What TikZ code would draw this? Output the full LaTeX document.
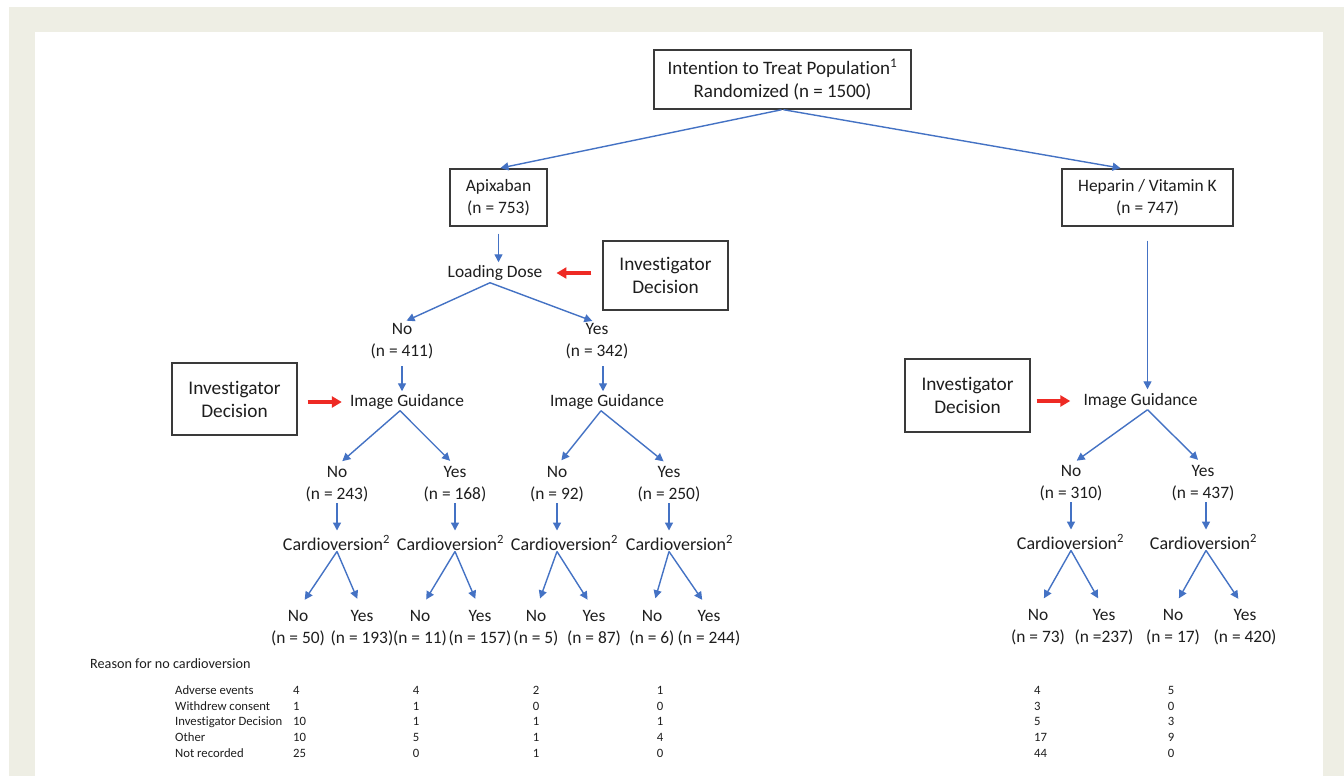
\documentclass[tikz,border=0pt]{standalone}
\usepackage{fontspec}
\setmainfont{Carlito}[Ligatures={NoCommon}]
\usetikzlibrary{arrows.meta,calc}
\definecolor{framebg}{HTML}{EEEEE4}
\definecolor{lineblue}{HTML}{4472C4}
\definecolor{arrred}{HTML}{EE2A24}
\definecolor{txt}{HTML}{1E1E1E}
\definecolor{boxgray}{HTML}{3A3A3A}
\newcommand\mainsz{\fontsize{17.4}{22.5}\selectfont}
\newcommand\topsz{\fontsize{19}{23}\selectfont}
\newcommand\invsz{\fontsize{19.3}{23}\selectfont}
\newcommand\cvsz{\fontsize{18}{22.5}\selectfont}
\newcommand\tabsz{\fontsize{12.7}{15.7}\selectfont}
\newcommand\reasonsz{\fontsize{14.2}{17}\selectfont}
\begin{document}
\begin{tikzpicture}[x=1pt,y=-1pt,
  boxnode/.style={draw=boxgray, line width=1.1pt, align=center, font=\mainsz, text=txt, inner sep=0pt},
  lbl/.style={align=center, font=\mainsz, text=txt, inner sep=0pt},
  cvlbl/.style={lbl, font=\cvsz},
  tabtxt/.style={font=\tabsz, text=txt, inner sep=0pt},
  barr/.style={draw=lineblue, line width=1.4pt, -{Triangle[length=8pt,width=8pt]}},
  rarr/.style={draw=arrred, line width=3.6pt, -{Triangle[length=10pt,width=11pt]}}
]
\useasboundingbox (0,0) rectangle (1344,776);
\fill[framebg] (9,7) rectangle (1344,776);
\fill[white] (35,32) rectangle (1323,776);

% top
\node[boxnode, font=\topsz, minimum width=257pt, minimum height=59pt] (itt) at (782.5,79.5)
  {Intention to Treat Population\textsuperscript{1}\\Randomized (n = 1500)};
\node[boxnode, minimum width=97pt, minimum height=57pt] (apx) at (498.5,197.5) {Apixaban\\(n = 753)};
\node[boxnode, minimum width=171pt, minimum height=57pt] (hep) at (1147.5,197.5) {Heparin / Vitamin K\\(n = 747)};
\draw[barr, shorten <=1pt, shorten >=2pt] (itt.south) -- (apx.north);
\draw[barr, shorten <=1pt, shorten >=2pt] (itt.south) -- ([xshift=-25pt]hep.north);

% apixaban branch
\node[lbl] (ld) at (495,273) {Loading Dose};
\draw[barr, shorten <=7pt, shorten >=3pt] (apx.south) -- (apx.south |- ld.north);
\node[boxnode, font=\invsz, minimum width=125pt, minimum height=69pt] (inv1) at (665.5,275.5) {Investigator\\Decision};
\draw[rarr, shorten <=11pt, shorten >=14pt] (inv1.west |- ld.east) -- (ld.east);

\node[lbl] (l2a) at (402,341) {No\\(n = 411)};
\node[lbl] (l2b) at (597,341) {Yes\\(n = 342)};
\coordinate (ldv) at ([xshift=-5pt,yshift=-2pt]ld.south);
\draw[barr, shorten >=5pt] (ldv) -- (l2a.north);
\draw[barr, shorten >=5pt] (ldv) -- (l2b.north);

\node[lbl] (ig1) at (407,402) {Image Guidance};
\node[lbl] (ig2) at (607,402) {Image Guidance};
\draw[barr, shorten <=7pt, shorten >=3pt] (l2a.south) -- (l2a.south |- ig1.north);
\draw[barr, shorten <=7pt, shorten >=3pt] ([xshift=6pt]l2b.south) -- ([xshift=6pt]l2b.south |- ig2.north);
\node[boxnode, font=\invsz, minimum width=125pt, minimum height=72pt] (inv2) at (234.5,399) {Investigator\\Decision};
\draw[rarr, shorten <=10pt, shorten >=8pt] (inv2.east |- ig1.west) -- (ig1.west);

\node[lbl] (l3a) at (337,484) {No\\(n = 243)};
\node[lbl] (l3b) at (455,484) {Yes\\(n = 168)};
\node[lbl] (l3c) at (557,484) {No\\(n = 92)};
\node[lbl] (l3d) at (669,484) {Yes\\(n = 250)};
\coordinate (ig1v) at ([xshift=-7pt,yshift=-1pt]ig1.south);
\coordinate (ig2v) at ([xshift=-6pt,yshift=-1pt]ig2.south);
\draw[barr, shorten >=7pt] (ig1v) -- (l3a.north);
\draw[barr, shorten >=7pt] (ig1v) -- (l3b.north);
\draw[barr, shorten >=7pt] (ig2v) -- (l3c.north);
\draw[barr, shorten >=7pt] (ig2v) -- (l3d.north);

\node[cvlbl] (cv1) at (336.5,543) {Cardioversion\textsuperscript{2}};
\node[cvlbl] (cv2) at (450.5,543) {Cardioversion\textsuperscript{2}};
\node[cvlbl] (cv3) at (564.5,543) {Cardioversion\textsuperscript{2}};
\node[cvlbl] (cv4) at (679.5,543) {Cardioversion\textsuperscript{2}};
\draw[barr, shorten <=1pt, shorten >=5pt] (l3a.south) -- (l3a.south |- cv1.north);
\draw[barr, shorten <=1pt, shorten >=5pt] (l3b.south) -- (l3b.south |- cv2.north);
\draw[barr, shorten <=1pt, shorten >=5pt] (l3c.south) -- (l3c.south |- cv3.north);
\draw[barr, shorten <=1pt, shorten >=5pt] (l3d.south) -- (l3d.south |- cv4.north);

\node[lbl] (lf1) at (298,628) {No\\(n = 50)};
\node[lbl] (lf2) at (362,628) {Yes\\(n = 193)};
\node[lbl] (lf3) at (420,628) {No\\(n = 11)};
\node[lbl] (lf4) at (480,628) {Yes\\(n = 157)};
\node[lbl] (lf5) at (536,628) {No\\(n = 5)};
\node[lbl] (lf6) at (594,628) {Yes\\(n = 87)};
\node[lbl] (lf7) at (652,628) {No\\(n = 6)};
\node[lbl] (lf8) at (709,628) {Yes\\(n = 244)};
\coordinate (cv1v) at ([yshift=-1pt]l3a.south |- cv1.south);
\coordinate (cv2v) at ([yshift=-1pt]l3b.south |- cv2.south);
\coordinate (cv3v) at ([yshift=-1pt]l3c.south |- cv3.south);
\coordinate (cv4v) at ([yshift=-1pt]l3d.south |- cv4.south);
\draw[barr, shorten >=12pt] (cv1v) -- (lf1.north);
\draw[barr, shorten >=12pt] (cv1v) -- (lf2.north);
\draw[barr, shorten >=12pt] (cv2v) -- (lf3.north);
\draw[barr, shorten >=12pt] (cv2v) -- (lf4.north);
\draw[barr, shorten >=12pt] (cv3v) -- (lf5.north);
\draw[barr, shorten >=12pt] (cv3v) -- (lf6.north);
\draw[barr, shorten >=12pt] (cv4v) -- (lf7.north);
\draw[barr, shorten >=12pt] (cv4v) -- (lf8.north);

% heparin branch
\node[lbl] (ig3) at (1140.5,401) {Image Guidance};
\draw[barr, shorten <=14pt, shorten >=4pt] (hep.south) -- (hep.south |- ig3.north);
\node[boxnode, font=\invsz, minimum width=125pt, minimum height=73pt] (inv3) at (967.5,395.5) {Investigator\\Decision};
\draw[rarr, shorten <=6pt, shorten >=13pt] (inv3.east |- ig3.west) -- (ig3.west);

\node[lbl] (l3e) at (1071,483) {No\\(n = 310)};
\node[lbl] (l3f) at (1203,483) {Yes\\(n = 437)};
\coordinate (ig3v) at ([yshift=-1pt]hep.south |- ig3.south);
\draw[barr, shorten >=7pt] (ig3v) -- (l3e.north);
\draw[barr, shorten >=7pt] (ig3v) -- (l3f.north);

\node[cvlbl] (cv5) at (1070.5,542) {Cardioversion\textsuperscript{2}};
\node[cvlbl] (cv6) at (1203.5,542) {Cardioversion\textsuperscript{2}};
\draw[barr, shorten <=1pt, shorten >=5pt] (l3e.south) -- (l3e.south |- cv5.north);
\draw[barr, shorten <=1pt, shorten >=5pt] ([xshift=3pt]l3f.south) -- ([xshift=3pt]l3f.south |- cv6.north);

\node[lbl] (lf9) at (1038,627) {No\\(n = 73)};
\node[lbl] (lf10) at (1104,627) {Yes\\(n =237)};
\node[lbl] (lf11) at (1173,627) {No\\(n = 17)};
\node[lbl] (lf12) at (1245,627) {Yes\\(n = 420)};
\coordinate (cv5v) at ([yshift=-1pt]l3e.south |- cv5.south);
\coordinate (cv6v) at ([xshift=3pt,yshift=-1pt]l3f.south |- cv6.south);
\draw[barr, shorten >=12pt] (cv5v) -- (lf9.north);
\draw[barr, shorten >=12pt] (cv5v) -- (lf10.north);
\draw[barr, shorten >=12pt] (cv6v) -- (lf11.north);
\draw[barr, shorten >=12pt] (cv6v) -- (lf12.north);

% table
\node[anchor=base west, font=\reasonsz, text=txt, inner sep=0pt] (reason) at (90,668) {Reason for no cardioversion};
\foreach \lab/\a/\b/\c/\d/\e/\f [count=\i] in {
  Adverse events/4/4/2/1/4/5,
  Withdrew consent/1/1/0/0/3/0,
  Investigator Decision/10/1/1/1/5/3,
  Other/10/5/1/4/17/9,
  Not recorded/25/0/1/0/44/0}{
  \pgfmathsetmacro\yb{694.5+15.65*(\i-1)}
  \node[tabtxt, anchor=base west] (rl\i) at (175,\yb) {\lab};
  \node[tabtxt, anchor=base west] (ra\i) at (293,\yb) {\a};
  \node[tabtxt, anchor=base] (rb\i) at (416,\yb) {\b};
  \node[tabtxt, anchor=base] (rc\i) at (536,\yb) {\c};
  \node[tabtxt, anchor=base] (rd\i) at (660,\yb) {\d};
  \node[tabtxt, anchor=base west] (re\i) at (1034,\yb) {\e};
  \node[tabtxt, anchor=base] (rf\i) at (1171,\yb) {\f};
}
\end{tikzpicture}
\end{document}
